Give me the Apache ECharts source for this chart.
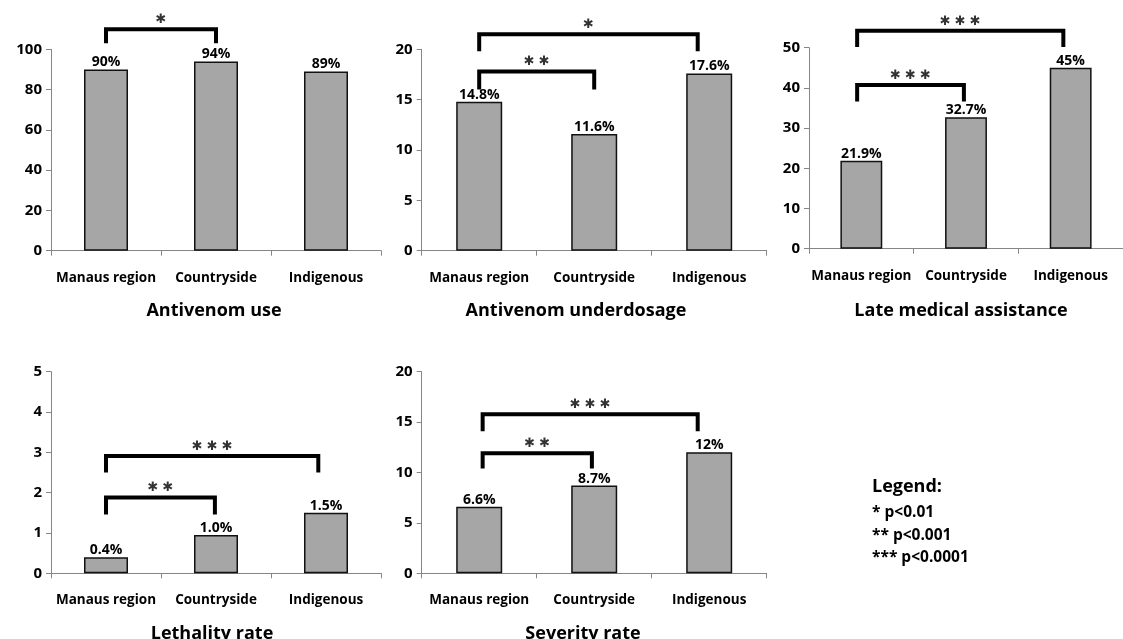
<!DOCTYPE html>
<html>
<head>
<meta charset="utf-8">
<script src="https://cdn.jsdelivr.net/npm/echarts@6/dist/echarts.min.js"></script>
<style>
  html, body { margin: 0; padding: 0; background: #fff; }
  #main { width: 1123px; height: 639px; }
</style>
</head>
<body>
<div id="main"></div>
<script>
// data
var categories = ['Manaus region', 'Countryside', 'Indigenous'];

var antivenomUse = [90, 94, 89];
var antivenomUseLabels = ['90%', '94%', '89%'];

var underdosage = [14.8, 11.6, 17.6];
var underdosageLabels = ['14.8%', '11.6%', '17.6%'];

var lateAssistance = [21.9, 32.7, 45];
var lateAssistanceLabels = ['21.9%', '32.7%', '45%'];

var lethality = [0.4, 0.95, 1.5];
var lethalityLabels = ['0.4%', '1.0%', '1.5%'];

var severity = [6.6, 8.7, 12];
var severityLabels = ['6.6%', '8.7%', '12%'];

var yMax = [100, 20, 50, 5, 20];
var yInterval = [20, 5, 10, 1, 5];

// significance brackets: [from, to, foot, top, stars]
var antivenomUseBrackets = [[0, 1, 103, 110, '*']];
var underdosageBrackets = [[0, 1.9, 19.8, 21.5, '*'], [0, 1, 16.0, 17.8, '**']];
var lateAssistanceBrackets = [[-0.04, 1.93, 50.2, 54.2, '***'], [-0.04, 0.98, 36.6, 40.7, '***']];
var lethalityBrackets = [[0, 1.93, 2.5, 2.91, '***'], [0, 0.99, 1.46, 1.88, '**']];
var severityBrackets = [[0.03, 1.9, 14.1, 15.77, '***'], [0.03, 0.98, 10.4, 11.9, '**']];

var titles = ['Antivenom use', 'Antivenom underdosage', 'Late medical assistance', 'Lethality rate', 'Severity rate'];
var legendLines = ['* p<0.01', '** p<0.001', '*** p<0.0001'];

var panelValues = [antivenomUse, underdosage, lateAssistance, lethality, severity];
var panelLabels = [antivenomUseLabels, underdosageLabels, lateAssistanceLabels, lethalityLabels, severityLabels];
var panelBrackets = [antivenomUseBrackets, underdosageBrackets, lateAssistanceBrackets, lethalityBrackets, severityBrackets];

// layout
var grids = [
  { left: 51, top: 49.3, width: 330, height: 201.4 },
  { left: 421.7, top: 49.3, width: 345, height: 201.4 },
  { left: 809, top: 47.7, width: 323, height: 201 },
  { left: 51, top: 371.7, width: 330, height: 201.6 },
  { left: 421.7, top: 371.7, width: 345, height: 201.6 }
];
var titlePos = [[214, 311], [576, 311], [961, 311], [212, 634], [583, 634]];

var FONT = '"Open Sans", "DejaVu Sans", sans-serif';
var axisGray = '#868686';

var myChart = echarts.init(document.getElementById('main'));

var xAxes = [], yAxes = [], series = [], graphics = [];

grids.forEach(function (g, i) {
  xAxes.push({
    type: 'category', gridIndex: i, data: categories,
    axisLine: { lineStyle: { color: axisGray, width: 1 } },
    axisTick: { show: true, length: 5, lineStyle: { color: axisGray } },
    axisLabel: { interval: 0, hideOverlap: false, color: '#000', fontFamily: FONT, fontWeight: 'bold', fontSize: 13.5, margin: 20 }
  });
  // helper axis for brackets (category centres at 0, 1, 2)
  xAxes.push({ type: 'value', gridIndex: i, min: -0.5, max: 2.5, show: false });
  yAxes.push({
    type: 'value', gridIndex: i, min: 0, max: yMax[i], interval: yInterval[i],
    splitLine: { show: false },
    axisLine: { show: true, onZero: false, lineStyle: { color: axisGray, width: 1 } },
    axisTick: { show: true, length: 5, lineStyle: { color: axisGray } },
    axisLabel: { color: '#000', fontFamily: FONT, fontWeight: 'bold', fontSize: 15, margin: 9 }
  });

  series.push({
    type: 'bar', xAxisIndex: 2 * i, yAxisIndex: i,
    data: panelValues[i], barWidth: '40%',
    itemStyle: { color: '#a6a6a6', borderColor: '#111', borderWidth: 1.5 },
    label: {
      show: true, position: 'top', distance: 0,
      color: '#000', fontFamily: FONT, fontWeight: 'bold', fontSize: 14,
      formatter: (function (labs) { return function (p) { return labs[p.dataIndex]; }; })(panelLabels[i])
    }
  });

  panelBrackets[i].forEach(function (b) {
    series.push({
      type: 'line', xAxisIndex: 2 * i + 1, yAxisIndex: i, clip: false,
      symbol: 'none', silent: true,
      data: [[b[0], b[2]], [b[0], b[3]], [b[1], b[3]], [b[1], b[2]]],
      lineStyle: { color: '#000', width: 4, cap: 'butt', join: 'miter' }
    });
    series.push({
      type: 'scatter', xAxisIndex: 2 * i + 1, yAxisIndex: i, clip: false,
      symbolSize: 1, itemStyle: { color: 'rgba(0,0,0,0)' }, silent: true,
      data: [[(b[0] + b[1]) / 2, b[3]]],
      label: {
        show: true, position: 'inside', offset: [0, -9.5],
        color: '#000', fontFamily: '"DejaVu Sans", sans-serif', fontSize: 13,
        // heavy asterisk glyph for the significance marks
        formatter: (function (s) { return s.split('').map(function () { return '\u2731'; }).join(' '); })(b[4])
      }
    });
  });

  graphics.push({
    type: 'text', x: titlePos[i][0], y: titlePos[i][1],
    style: { text: titles[i], fill: '#000', font: 'bold 18px ' + FONT, textAlign: 'center', textVerticalAlign: 'middle' }
  });
});

graphics.push({
  type: 'text', x: 872, y: 487,
  style: { text: 'Legend:', fill: '#000', font: 'bold 18px ' + FONT, textAlign: 'left', textVerticalAlign: 'middle' }
});
legendLines.forEach(function (t, k) {
  graphics.push({
    type: 'text', x: 872, y: 513 + k * 22.5,
    style: { text: t, fill: '#000', font: 'bold 15.5px ' + FONT, textAlign: 'left', textVerticalAlign: 'middle' }
  });
});

var option = {
  animation: false,
  backgroundColor: '#fff',
  grid: grids,
  xAxis: xAxes,
  yAxis: yAxes,
  series: series,
  graphic: graphics
};

myChart.setOption(option);
</script>
</body>
</html>
